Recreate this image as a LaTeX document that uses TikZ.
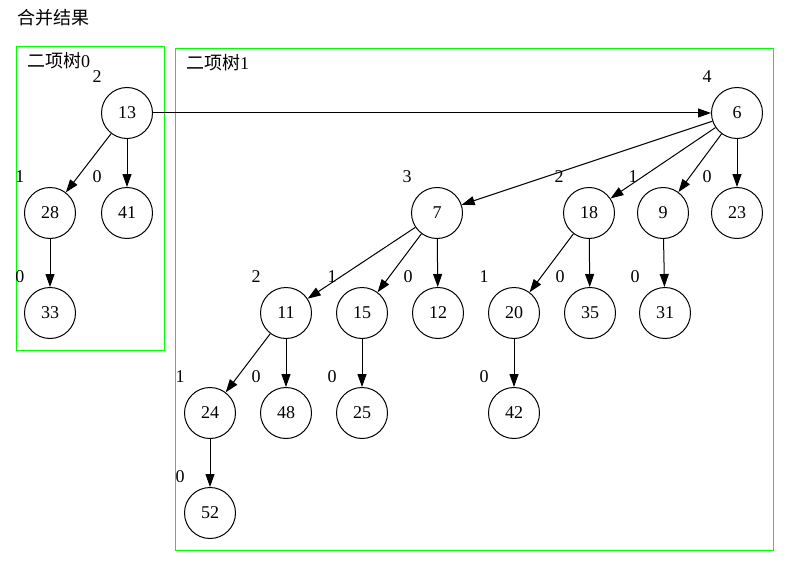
\documentclass[tikz,border=0pt]{standalone}
\usepackage{fontspec}
\setmainfont{Liberation Serif}
\newfontfamily\cjk{Noto Sans CJK SC}
\usetikzlibrary{arrows.meta}
\definecolor{clgreen}{RGB}{0,255,0}
\tikzset{
  nd/.style={draw, circle, minimum size=51pt, inner sep=0pt, line width=1pt,
             font=\fontsize{18}{20}\selectfont},
  deg/.style={inner sep=0pt, font=\fontsize{18}{20}\selectfont},
  edge/.style={draw, line width=1pt,
               -{Triangle[length=13pt,width=9pt]}},
  cl/.style={draw=clgreen, line width=1pt},
  cltitle/.style={anchor=west, inner sep=0pt, font=\fontsize{18}{20}\selectfont},
}
\begin{document}
\begin{tikzpicture}[x=1pt, y=-1pt]
\useasboundingbox (0,0) rectangle (789,567);

% heading and the two clusters
\node[cltitle] (title) at (17,18) {\cjk 合并结果};
\draw[cl] (16,46.5) rectangle (164,350);
\draw[cl] (175,48.5) rectangle (773,550);
\node[cltitle] (c0) at (27,61) {\cjk 二项树\rmfamily 0};
\node[cltitle] (c1) at (186,63) {\cjk 二项树\rmfamily 1};

% nodes with their degree labels
\foreach \n/\x/\y/\d in {
  13/127/113/2, 28/50/213/1, 41/127/213/0, 33/50/313/0,
  6/737/113/4, 7/437/213/3, 18/589/213/2, 9/663/213/1, 23/737/213/0,
  11/286/313/2, 15/362/313/1, 12/438/313/0, 20/514/313/1, 35/590/313/0, 31/665/313/0,
  24/210/413/1, 48/286/413/0, 25/362/413/0, 42/514/413/0,
  52/210/513/0} {
  \node[nd] (n\n) at (\x,\y) {\n};
  \node[deg] (d\n) at (\x-30,\y-36) {\d};
}

% tree edges
\foreach \a/\b in {13/28, 13/41, 28/33, 13/6,
  6/7, 6/18, 6/9, 6/23,
  7/11, 7/15, 7/12, 11/24, 11/48, 24/52, 15/25,
  18/20, 18/35, 20/42, 9/31} {
  \draw[edge] (n\a) -- (n\b);
}
\end{tikzpicture}
\end{document}
